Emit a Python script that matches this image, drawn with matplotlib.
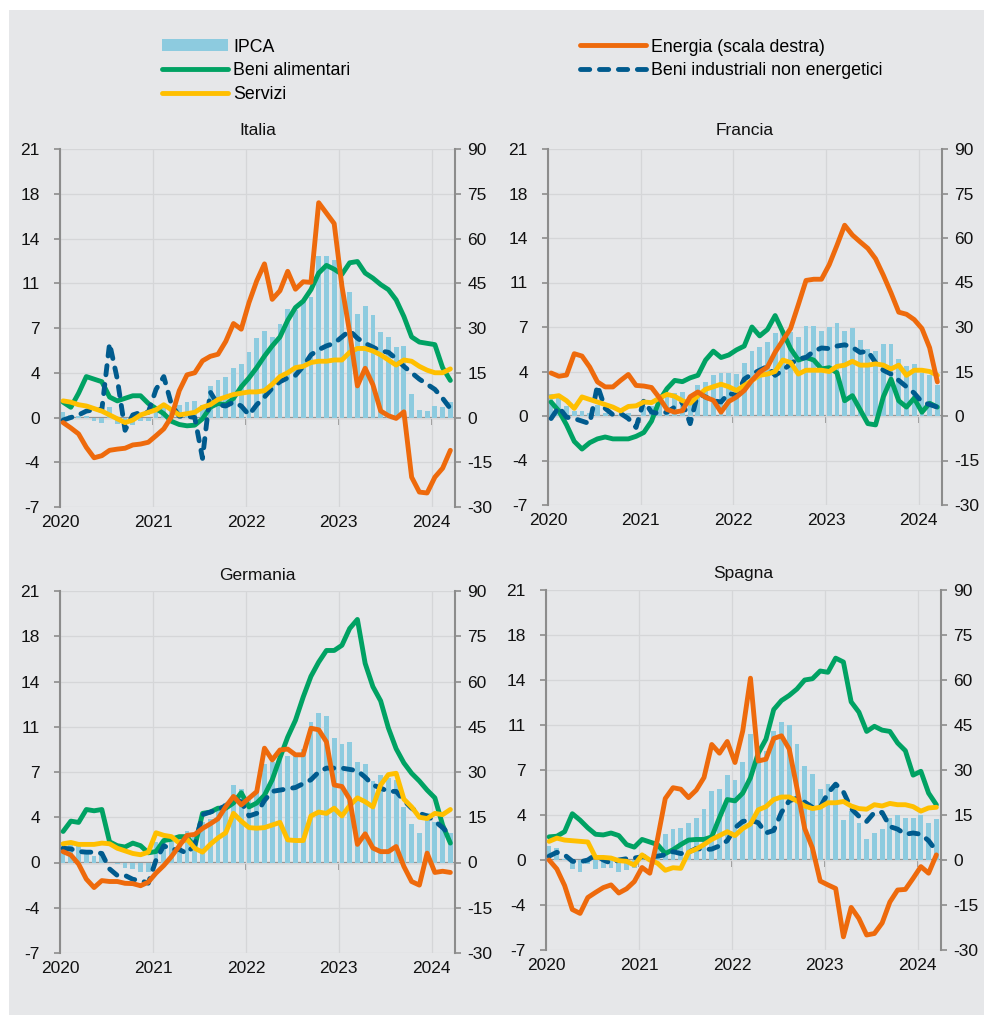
import matplotlib
matplotlib.use("Agg")
import matplotlib.pyplot as plt
import pandas as pd
from matplotlib.patches import Rectangle, Patch
from matplotlib.lines import Line2D

# ---------------- data ----------------
months = pd.period_range("2020-01", "2024-03", freq="M")
year_labels = ["2020", "2021", "2022", "2023", "2024"]
left_ticks = [-7, -3.5, 0, 3.5, 7, 10.5, 14, 17.5, 21]
left_labels = ["-7", "-4", "0", "4", "7", "11", "14", "18", "21"]
right_ticks = [-30, -15, 0, 15, 30, 45, 60, 75, 90]
series_names = ["IPCA", "Beni alimentari", "Servizi",
                "Energia (scala destra)", "Beni industriali non energetici"]

# Italia
ipca_it = [0.4, 0.2, 0.1, 0.1, -0.3, -0.4, 0.8, -0.5, -1.0, -0.6, -0.3, -0.3,
           0.7, 1.0, 0.6, 1.0, 1.2, 1.3, 1.0, 2.5, 2.9, 3.2, 3.9, 4.2,
           5.1, 6.2, 6.8, 6.3, 7.3, 8.5, 8.4, 9.1, 9.4, 12.6, 12.6, 12.3,
           10.7, 9.8, 8.1, 8.7, 8.0, 6.7, 6.3, 5.5, 5.6, 1.8, 0.6, 0.5,
           0.9, 0.8, 1.2]
alim_it = [1.2, 0.8, 1.9, 3.2, 3.0, 2.8, 1.6, 1.3, 1.5, 1.7, 1.7, 1.1,
           0.7, 0.3, -0.3, -0.55, -0.65, -0.6, -0.1, 0.8, 1.1, 1.0, 1.5, 2.4,
           3.1, 3.9, 4.8, 5.6, 6.3, 7.6, 8.6, 9.1, 10.0, 11.3, 11.9, 11.6,
           11.2, 12.1, 12.2, 11.3, 10.9, 10.4, 10.0, 9.2, 7.9, 6.3, 5.9, 5.8,
           5.7, 3.9, 2.9]
serv_it = [1.3, 1.2, 1.0, 0.9, 0.7, 0.5, 0.2, -0.1, -0.4, -0.2, 0.2, 0.4,
           0.6, 1.0, 0.6, 0.2, 0.3, 0.4, 0.8, 1.0, 1.4, 1.6, 1.8, 1.9,
           2.0, 2.0, 2.1, 2.6, 3.2, 3.5, 3.9, 4.0, 4.3, 4.4, 4.4, 4.5,
           4.5, 5.1, 5.4, 5.4, 5.2, 4.9, 4.5, 4.1, 4.5, 4.4, 4.0, 3.7,
           3.5, 3.5, 3.8]
ener_it = [-1.7, -3.5, -5.5, -10, -13.5, -12.8, -11, -10.6, -10.3, -9.2, -8.9, -8.3,
           -6.1, -3.8, 0.3, 9.0, 14.3, 15.0, 19, 20.5, 21.2, 25.5, 31.5, 29.6,
           38.5, 45.8, 51.5, 39.6, 42.5, 49, 43, 45.5, 45.3, 72, 68.5, 65,
           44, 28.5, 10.6, 16.5, 11, 2.2, 0.6, -0.3, 1.9, -20, -25, -25.3,
           -20, -17, -11]
bine_it = [-0.2, 0.0, 0.2, 0.5, 0.6, 0.6, 5.8, 3.0, -1.0, 0.2, 0.4, 0.4,
           2.2, 3.2, 1.0, 0.1, 0.1, 0.0, -3.2, 2.0, 1.0, 0.9, 1.2, 0.9,
           0.2, 1.0, 1.6, 2.3, 2.8, 3.1, 3.3, 4.0, 4.9, 5.3, 5.6, 5.8,
           6.3, 6.8, 6.2, 5.8, 5.5, 5.2, 5.1, 4.6, 4.0, 3.5, 3.0, 2.6,
           2.2, 1.5, 0.7]

# Francia
ipca_fr = [1.7, 1.6, 0.8, 0.4, 0.4, 0.2, 0.9, 0.2, 0.0, 0.1, 0.2, 0.0,
           0.8, 0.8, 1.4, 1.6, 1.8, 1.9, 1.5, 2.4, 2.7, 3.2, 3.4, 3.4,
           3.3, 4.2, 5.1, 5.4, 5.8, 6.5, 6.8, 6.6, 6.2, 7.1, 7.1, 6.7,
           7.0, 7.3, 6.7, 6.9, 6.0, 5.3, 5.1, 5.7, 5.7, 4.5, 3.9, 4.1,
           3.4, 3.2, 2.4]
alim_fr = [1.1, 0.4, -0.7, -2.0, -2.6, -2.1, -1.8, -1.65, -1.8, -1.8, -1.8, -1.6,
           -1.3, -0.4, 1.2, 2.15, 2.8, 2.7, 3.0, 3.2, 4.4, 5.1, 4.6, 4.8,
           5.2, 5.5, 7.0, 6.3, 6.8, 7.9, 6.6, 5.3, 4.4, 4.6, 4.4, 3.7,
           3.8, 3.4, 1.2, 1.6, 0.5, -0.6, -0.7, 1.5, 2.9, 1.2, 0.7, 1.4,
           0.3, 1.0, 0.7]
serv_fr = [1.5, 1.6, 1.2, 0.6, 1.5, 1.3, 1.1, 0.9, 0.7, 0.4, 0.75, 0.8,
           1.1, 1.05, 1.4, 1.7, 1.55, 1.2, 1.0, 1.6, 2.1, 2.3, 2.5, 2.3,
           2.0, 2.4, 2.8, 3.2, 3.3, 3.5, 4.4, 4.2, 3.3, 3.6, 3.6, 3.6,
           3.5, 3.9, 4.0, 4.3, 4.0, 4.0, 4.1, 4.0, 3.7, 4.0, 3.2, 3.6,
           3.6, 3.5, 3.2]
ener_fr = [14.5, 13.4, 13.8, 21, 20.2, 16.5, 11.5, 9.8, 9.8, 12, 14, 10.3,
           10.1, 9.6, 6.2, 2.2, 1.3, 1.8, 6.5, 8.1, 6.3, 5.3, 1.3, 4.9,
           6.4, 8.6, 12, 14.8, 16.5, 21.5, 25.5, 29.5, 37.5, 45.7, 46.1, 46.1,
           51, 57.5, 64.3, 61, 58.7, 56.5, 53, 47.5, 41.5, 35, 34.3, 32.5,
           29.5, 23, 11.5]
bine_fr = [-0.2, 0.7, -0.1, -0.2, -0.4, -0.6, 2.4, 0.6, 0.1, 0.2, -0.2, -0.9,
           1.2, 0.3, 0.2, 0.3, 0.7, 1.1, -0.6, 1.8, 1.5, 1.2, 1.1, 1.8,
           1.6, 2.9, 3.3, 3.6, 3.9, 3.2, 3.6, 4.1, 4.5, 4.6, 5.1, 5.35,
           5.3, 5.5, 5.6, 5.4, 5.0, 5.1, 4.2, 3.6, 3.3, 2.8, 2.3, 1.8,
           1.1, 0.9, 0.7]

# Germania
ipca_de = [1.6, 1.7, 1.3, 0.8, 0.5, 0.8, 0.0, -0.1, -0.4, -0.5, -0.7, -0.7,
           1.6, 1.6, 2.0, 2.1, 2.4, 2.1, 3.1, 3.4, 4.1, 4.6, 6.0, 5.7,
           5.1, 5.5, 7.6, 7.8, 8.7, 8.2, 8.5, 8.8, 10.9, 11.6, 11.3, 9.6,
           9.2, 9.3, 7.8, 7.6, 6.3, 6.8, 6.5, 6.4, 4.3, 3.0, 2.3, 3.8,
           3.1, 2.7, 2.3]
alim_de = [2.4, 3.2, 3.1, 4.1, 4.0, 4.1, 1.6, 1.3, 1.2, 1.5, 1.3, 0.75,
           0.85, 1.7, 1.8, 2.0, 2.0, 1.2, 3.8, 3.9, 4.2, 4.2, 4.6, 5.4,
           4.3, 4.6, 5.2, 6.4, 8.1, 9.7, 11.0, 12.8, 14.4, 15.5, 16.4, 16.4,
           16.8, 18.1, 18.8, 15.4, 13.6, 12.5, 10.4, 8.8, 7.7, 6.9, 6.3, 5.6,
           5.0, 2.9, 1.5]
serv_de = [1.45, 1.55, 1.4, 1.4, 1.4, 1.5, 1.45, 1.1, 0.9, 0.7, 0.6, 0.8,
           2.3, 2.1, 2.0, 1.5, 1.8, 1.1, 0.8, 1.4, 1.9, 2.3, 3.8, 3.2,
           2.7, 2.65, 2.7, 2.9, 3.1, 1.75, 1.7, 1.7, 3.6, 3.9, 3.8, 4.2,
           3.6, 4.4, 5.0, 4.7, 4.3, 6.0, 6.8, 6.9, 4.9, 4.3, 3.5, 3.4,
           3.8, 3.7, 4.1]
ener_de = [3.6, 2.5, -0.5, -5.5, -8.3, -6.0, -6.3, -6.3, -6.9, -7.0, -7.7, -6.5,
           -3.5, -1.0, 2.0, 5.5, 9.0, 9.3, 11.3, 12.8, 14.5, 18.5, 21.9, 19.1,
           21.3, 23.5, 37.9, 34.0, 37.3, 37.6, 35.7, 35.7, 44.5, 44.0, 40.0, 25.7,
           25.2, 21, 6, 9.5, 4.8, 3.6, 3.6, 5.3, -1.3, -6.3, -7.5, 3.1,
           -3.3, -2.9, -3.3]
bine_de = [1.1, 1.05, 0.85, 0.8, 0.8, 0.7, -0.5, -1.0, -1.0, -1.3, -1.4, -1.6,
           0.2, 1.3, 1.0, 1.0, 0.7, 1.4, 3.7, 3.9, 4.1, 4.4, 4.85, 4.7,
           3.6, 3.8, 4.8, 5.5, 5.6, 5.7, 5.8, 6.1, 6.4, 7.0, 7.3, 7.3,
           7.3, 7.2, 7.1, 6.6, 6.0, 5.75, 5.5, 5.5, 4.8, 4.2, 3.8, 3.6,
           3.2, 2.7, 2.1]

# Spagna
ipca_es = [1.1, 0.9, 0.1, -0.7, -0.9, -0.3, -0.7, -0.6, -0.6, -0.9, -0.8, -0.6,
           0.4, -0.1, 1.2, 2.0, 2.4, 2.5, 2.9, 3.3, 4.0, 5.4, 5.5, 6.6,
           6.2, 7.6, 9.8, 8.3, 8.5, 10.0, 10.7, 10.5, 9.0, 7.3, 6.7, 5.5,
           5.9, 6.0, 3.1, 3.8, 2.9, 1.6, 2.1, 2.4, 3.3, 3.5, 3.3, 3.3,
           3.5, 2.9, 3.2]
alim_es = [1.8, 1.85, 2.2, 3.6, 3.1, 2.5, 2.0, 1.95, 2.1, 1.9, 1.2, 1.0,
           1.6, 1.4, 1.2, 0.5, 0.8, 1.2, 1.55, 1.6, 1.6, 1.8, 3.3, 4.7,
           4.6, 5.2, 6.4, 8.3, 9.4, 11.7, 12.4, 12.8, 13.3, 14.0, 14.1, 14.7,
           14.6, 15.7, 15.4, 12.3, 11.5, 10.0, 10.4, 10.1, 10.0, 9.1, 8.5, 6.6,
           6.9, 5.2, 4.3]
serv_es = [1.45, 1.7, 1.55, 1.5, 1.45, 1.4, 0.2, 0.2, 0.15, -0.05, -0.1, -0.4,
           0.4, 0.0, -0.25, -0.8, -0.6, -0.65, 0.6, 0.85, 1.2, 1.6, 1.9, 2.2,
           1.9, 2.45, 2.8, 3.9, 4.15, 4.7, 4.9, 4.9, 4.6, 4.2, 4.0, 4.1,
           4.45, 4.45, 4.55, 4.2, 4.0, 3.95, 4.3, 4.2, 4.4, 4.3, 4.3, 4.15,
           3.8, 4.05, 4.1]
ener_es = [0, -3.0, -8.5, -16.5, -17.8, -12.5, -10.8, -9.2, -8.3, -11, -9.6, -7.2,
           -2.5, -4.4, 7, 20.5, 24.1, 23.6, 20.8, 23.3, 27.5, 38.5, 35.6, 39.5,
           32.5, 43, 60.6, 33, 33.6, 40.5, 41.4, 37, 24, 10.5, 4.0, -7,
           -8.3, -9.5, -25.6, -15.8, -19.5, -25, -24.5, -21, -14, -10, -9.8, -6.1,
           -2.2, -4.4, 1.7]
bine_es = [0.3, 0.6, 0.4, -0.1, -0.15, 0.0, 0.4, 0.0, -0.25, 0.0, 0.1, 0.15,
           0.25, 0.25, 0.3, 0.4, 0.65, 0.5, 0.6, 0.9, 0.8, 0.85, 1.1, 1.5,
           2.5, 3.0, 3.1, 2.9, 2.1, 2.3, 3.7, 4.6, 4.8, 4.5, 4.1, 4.1,
           5.2, 5.9, 5.3, 4.0, 3.4, 3.0, 3.7, 3.7, 2.6, 2.4, 2.0, 2.1,
           2.0, 1.5, 0.7]

# ---------------- style ----------------
C_BAR = "#8dcbdf"
C_GREEN = "#00a263"
C_YELLOW = "#ffbf00"
C_ORANGE = "#ee6a0c"
C_BLUE = "#005b8e"
BG = "#e6e7e9"
GRID = "#d5d6d8"
SPINE = "#8c8c8c"

plt.rcParams["font.family"] = ["Liberation Sans", "DejaVu Sans"]
plt.rcParams["axes.unicode_minus"] = False

W, H = 984, 1015
fig = plt.figure(figsize=(W / 100, H / 100), dpi=100, facecolor="white")
fig.patches.append(Rectangle((9 / W, 0), 1, 1 - 10 / H, transform=fig.transFigure,
                             facecolor=BG, edgecolor="none", zorder=-10))

x = [(p.year - 2020) * 12 + p.month - 1 + 0.4 for p in months]
year_pos = [(int(y) - 2020) * 12 for y in year_labels]
LW = 3.5
DASH = (1.9, 2.0)
TICK_FS = 12.5


def panel(rect, title, pad, ipca, alim, serv, ener, bine):
    l, t, r, b = rect
    ax = fig.add_axes([l / W, 1 - b / H, (r - l) / W, (b - t) / H])
    ax.set_facecolor("none")
    ax.bar(x, ipca, width=0.62, color=C_BAR, zorder=2)
    ax.plot(x, alim, color=C_GREEN, lw=LW, zorder=3,
            solid_capstyle="round", solid_joinstyle="round")
    ax.plot(x, bine, color=C_BLUE, lw=LW, zorder=4, dashes=DASH,
            dash_capstyle="round", dash_joinstyle="round")
    ax.plot(x, serv, color=C_YELLOW, lw=LW, zorder=5,
            solid_capstyle="round", solid_joinstyle="round")
    ax.set_xlim(0, 51)
    ax.set_ylim(-7, 21)
    ax.set_yticks(left_ticks, left_labels)
    ax.set_xticks(year_pos, year_labels)
    ax.grid(True, color=GRID, lw=0.9)
    ax.set_axisbelow(True)
    for s in ["top", "bottom", "right"]:
        ax.spines[s].set_visible(False)
    ax.spines["left"].set_color(SPINE)
    ax.spines["left"].set_linewidth(1.5)
    ax.tick_params(axis="y", direction="out", length=4.5, width=1.2, color=SPINE,
                   pad=10, labelsize=TICK_FS, labelcolor="#111111")
    ax.tick_params(axis="x", length=0, pad=6, labelsize=TICK_FS, labelcolor="#111111")

    y0, y1 = ax.get_ylim()
    zero = ax.secondary_xaxis((0 - y0) / (y1 - y0))
    zero.set_xticks(year_pos)
    zero.tick_params(length=5, width=1.2, color=SPINE, labelbottom=False)
    zero.spines["bottom"].set_color(SPINE)
    zero.spines["bottom"].set_linewidth(1.6)

    ax2 = ax.twinx()
    ax2.plot(x, ener, color=C_ORANGE, lw=LW, zorder=6,
             solid_capstyle="round", solid_joinstyle="round")
    ax2.set_ylim(-30, 90)
    ax2.set_yticks(right_ticks)
    for s in ["top", "bottom", "left"]:
        ax2.spines[s].set_visible(False)
    ax2.spines["right"].set_color(SPINE)
    ax2.spines["right"].set_linewidth(1.5)
    ax2.tick_params(axis="y", direction="out", length=4, width=1.2, color=SPINE,
                    pad=5, labelsize=TICK_FS, labelcolor="#111111")
    ax.set_title(title, fontsize=12.5, pad=pad, color="#111111")
    return ax


panel((60, 149, 455, 507), "Italia", 10, ipca_it, alim_it, serv_it, ener_it, bine_it)
panel((548, 149, 942, 505), "Francia", 10, ipca_fr, alim_fr, serv_fr, ener_fr, bine_fr)
panel((60, 591, 455, 953), "Germania", 8, ipca_de, alim_de, serv_de, ener_de, bine_de)
panel((546, 590, 941, 950), "Spagna", 8.5, ipca_es, alim_es, serv_es, ener_es, bine_es)

# ---------------- legend ----------------
h_ipca = Patch(facecolor=C_BAR, edgecolor="none")
h_alim = Line2D([], [], color=C_GREEN, lw=LW, solid_capstyle="round")
h_serv = Line2D([], [], color=C_YELLOW, lw=LW, solid_capstyle="round")
h_ener = Line2D([], [], color=C_ORANGE, lw=LW, solid_capstyle="round")
h_bine = Line2D([], [], color=C_BLUE, lw=LW, dashes=DASH, dash_capstyle="round")

LEG_FS = 12.8
px = LEG_FS * 100 / 72
common = dict(loc="upper left", frameon=False,
              handlelength=66 / px, handletextpad=5 / px, handleheight=0.62,
              labelspacing=0.37, borderpad=0, borderaxespad=0,
              prop={"family": "Liberation Sans", "size": LEG_FS})
leg1 = fig.legend([h_ipca, h_alim, h_serv], series_names[:3],
                  bbox_to_anchor=(162 / W, 1 - 38.5 / H), **common)
leg2 = fig.legend([h_ener, h_bine], series_names[3:],
                  bbox_to_anchor=(580 / W, 1 - 38.5 / H), **common)

fig.savefig("out.png", dpi=100, facecolor=fig.get_facecolor())
